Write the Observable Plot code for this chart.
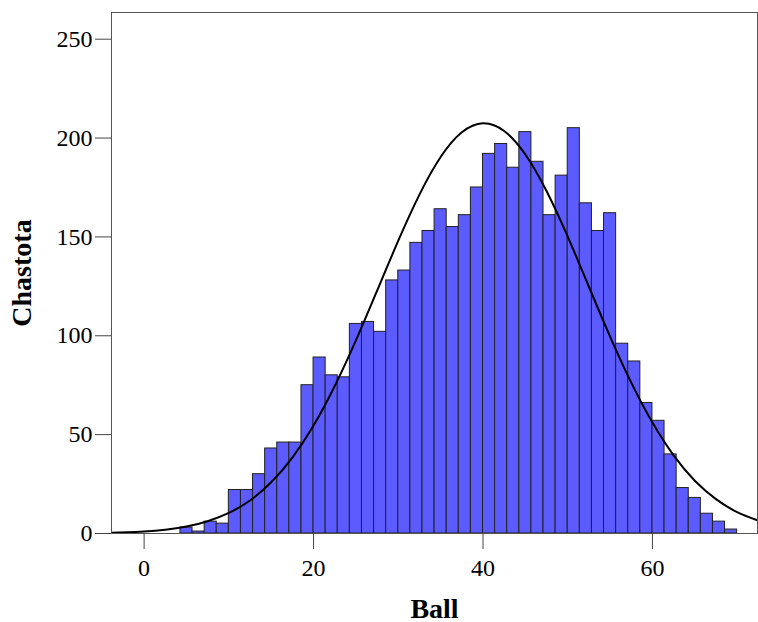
<!DOCTYPE html>
<html><head><meta charset="utf-8">
<script src="https://cdn.jsdelivr.net/npm/d3@7"></script>
<script src="https://cdn.jsdelivr.net/npm/@observablehq/plot@0.6"></script>
<style>body{margin:0;background:#fff}</style>
</head><body><div id="chart"></div>
<script>
// Histogram counts (46 bins, width 10/7, first edge 30/7)
const counts = [3, 1, 6, 5, 22, 22, 30, 43, 46, 46,
  75, 89, 80, 79, 106, 107, 102, 128, 133, 147,
  153, 164, 155, 161, 175, 192, 197, 185, 203, 188,
  161, 181, 205, 167, 153, 162, 96, 87, 66, 57,
  40, 23, 18, 10, 6, 2];
const binStart = 30 / 7;
const binWidth = 10 / 7;
// Fitted normal curve
const curveX = [-4, -2, 0, 2.5, 5, 7.5, 10, 12.5, 15, 17.5, 20, 22.5, 25, 27.5, 30, 32.5, 35, 37.5, 40,
  42.5, 45, 47.5, 50, 52.5, 55, 57.5, 60, 62.5, 65, 67.5, 70, 72.7];
const curveY = [0.34, 0.59, 1.0, 1.9, 3.5, 6.2, 10.4, 16.7, 25.9, 38.4, 54.6, 74.6, 97.7, 122.8, 148.1, 171.4, 190.4, 202.9, 207.5,
  203.6, 191.7, 173.2, 150.1, 124.8, 99.6, 76.3, 56.1, 39.5, 26.7, 17.4, 10.8, 6.2];
const xTicks = [0, 20, 40, 60];
const yTicks = [0, 50, 100, 150, 200, 250];
const xLabel = "Ball";
const yLabel = "Chastota";

const bins = counts.map((c, i) => ({x1: binStart + i * binWidth, x2: binStart + (i + 1) * binWidth, count: c}));
const curve = curveX.map((x, i) => ({x, y: curveY[i]}));

const font = "Liberation Serif, Times New Roman, serif";
const chart = Plot.plot({
  width: 758, height: 622,
  marginLeft: 111, marginRight: 1, marginTop: 12, marginBottom: 89,
  style: {fontFamily: font, background: "#fff", color: "#000"},
  x: {domain: [-3.85, 72.4]},
  y: {domain: [0, 263.5]},
  marks: [
    Plot.rectY(bins, {x1: "x1", x2: "x2", y: "count", fill: "#5b5bff", stroke: "#222", strokeWidth: 1}),
    Plot.line(curve, {x: "x", y: "y", stroke: "#000", strokeWidth: 2, curve: "natural", clip: true}),
    Plot.frame({stroke: "#555"}),
    Plot.axisX({ticks: xTicks, tickSize: 16, tickPadding: 9, fontSize: 24, label: null, stroke: "#444", fontFamily: font}),
    Plot.axisX({ticks: [], label: xLabel, labelAnchor: "center", labelArrow: "none", labelOffset: 84, fontSize: 28, fontWeight: "bold", fontFamily: font}),
    Plot.axisY({ticks: yTicks, tickSize: 16, tickPadding: 3, fontSize: 24, label: null, stroke: "#444", fontFamily: font}),
    Plot.axisY({ticks: [], label: yLabel, labelAnchor: "center", labelArrow: "none", labelOffset: 100, fontSize: 28, fontWeight: "bold", fontFamily: font})
  ]
});
document.getElementById("chart").appendChild(chart);
</script>
</body></html>
